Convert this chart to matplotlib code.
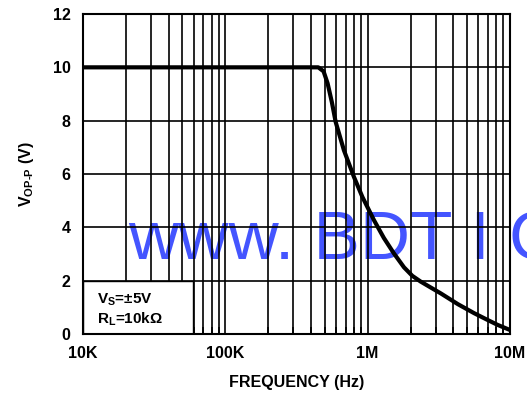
import numpy as np
import matplotlib
matplotlib.use("Agg")
import matplotlib.pyplot as plt
from matplotlib.patches import Rectangle

plt.rcParams['font.family'] = ['Liberation Sans', 'DejaVu Sans']
plt.rcParams['mathtext.fontset'] = 'custom'
plt.rcParams['mathtext.rm'] = 'Liberation Sans:bold'
plt.rcParams['mathtext.bf'] = 'Liberation Sans:bold'
plt.rcParams['mathtext.it'] = 'Liberation Sans:bold'

# data
freq_hz = [10e3, 100e3, 300e3, 450e3, 490e3, 523e3, 560e3, 596e3, 681e3,
           801e3, 918e3, 1.107e6, 1.3e6, 1.53e6, 1.8e6, 2.06e6, 2.35e6,
           2.7e6, 3.27e6, 4.3e6, 5.6e6, 7e6, 8.2e6, 10e6]
vopp = [10, 10, 10, 10, 9.85, 9.4, 8.7, 7.95, 6.89,
        5.89, 5.14, 4.27, 3.6, 3.02, 2.5, 2.18, 1.97,
        1.78, 1.52, 1.12, 0.78, 0.52, 0.34, 0.15]

x_ticks = [1e4, 1e5, 1e6, 1e7]
x_labels = ["10K", "100K", "1M", "10M"]
y_ticks = [0, 2, 4, 6, 8, 10, 12]

fig = plt.figure(figsize=(5.27, 4.0), dpi=100)
ax = fig.add_axes([83 / 527, 1 - 334 / 400, 427 / 527, 320 / 400])
ax.set_xscale("log")
ax.set_xlim(1e4, 1e7)
ax.set_ylim(0, 12)

# grid at every decade step
grid_x = [k * 10.0 ** n for n in range(4, 7) for k in range(1, 10)] + [1e7]
ax.vlines(grid_x, 0, 12, color="black", lw=1.2, zorder=1)
ax.hlines(y_ticks, 1e4, 1e7, color="black", lw=1.2, zorder=1)

# watermark behind grid
ax.text((128 - 83) / 427, (334 - 260) / 320, "www. BDT I C",
        transform=ax.transAxes, ha="left", va="baseline", fontsize=50,
        color="#4455ff", clip_on=False, zorder=0.5)

ax.plot(freq_hz, vopp, color="black", lw=3, solid_capstyle="butt",
        solid_joinstyle="round", zorder=3)

# conditions box
ax.add_patch(Rectangle((0, 0), 110 / 427, 2 / 12, transform=ax.transAxes,
                       facecolor="white", edgecolor="black", lw=1, zorder=2))
ax.text(14 / 427, 1.3, r"$\mathbf{V_S}$=±5V", fontsize=11, fontweight="bold",
        transform=ax.get_yaxis_transform(), va="center", zorder=4)
ax.text(14 / 427, 0.55, r"$\mathbf{R_L}$=10kΩ", fontsize=11, fontweight="bold",
        transform=ax.get_yaxis_transform(), va="center", zorder=4)

ax.set_xticks(x_ticks)
ax.set_xticklabels(x_labels)
ax.set_yticks(y_ticks)
ax.tick_params(axis="both", which="major", length=0, pad=9, labelsize=11.5)
ax.tick_params(axis="x", which="minor", direction="in", length=5, width=1.2,
               labelbottom=False)
ax.tick_params(axis="y", which="minor", length=0)
for lab in ax.get_xticklabels() + ax.get_yticklabels():
    lab.set_fontweight("bold")
for s in ax.spines.values():
    s.set_linewidth(1.5)
    s.set_zorder(5)

ax.set_xlabel("FREQUENCY (Hz)", fontsize=11.5, fontweight="bold", labelpad=10)
ax.set_ylabel(r"$\mathbf{V_{OP\text{-}P}}$ (V)", fontsize=11.5,
              fontweight="bold", labelpad=12)

fig.savefig("out.png", dpi=100)
